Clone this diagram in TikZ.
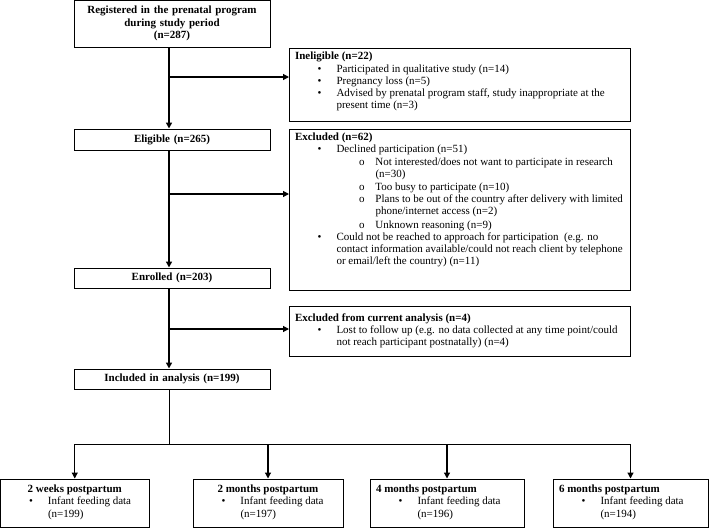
\documentclass[tikz,border=0pt]{standalone}
\usepackage{fontspec}
\setmainfont{Liberation Serif}
\usepackage{tikz}
\usetikzlibrary{arrows.meta}
\hfuzz=20pt
\newcommand{\hd}[1]{\noindent{\spaceskip=0pt\xspaceskip=0pt\bfseries #1}}
\newcommand{\bul}[1]{\par\noindent\hspace*{22.5pt}\makebox[19pt][l]{\textbullet}{\spaceskip=0pt\xspaceskip=0pt\begin{tabular}[t]{@{}l@{}}#1\end{tabular}}}
\newcommand{\subbul}[1]{\par\noindent\hspace*{64pt}\makebox[16.5pt][l]{o}{\spaceskip=0pt\xspaceskip=0pt\begin{tabular}[t]{@{}l@{}}#1\end{tabular}}}
\newcommand{\tail}[1]{\par\nointerlineskip\vspace{#1}\null}
\begin{document}
\begin{tikzpicture}[x=1pt,y=-1pt,
  every node/.append style={font=\fontsize{11}{12.2}\selectfont},
  mainbox/.style={draw,line width=1pt,font=\fontsize{11}{12.2}\selectfont\bfseries,align=center,text width=186pt,inner xsep=5pt,inner ysep=0pt},
  sidebox/.style={draw,line width=1pt,anchor=north west,align=left,text width=330pt,inner xsep=5.5pt,inner ysep=3.5pt},
  endbox/.style={draw,line width=1pt,align=left,inner xsep=6pt,inner ysep=0pt,minimum height=48pt},
  flow/.style={-{Triangle[length=6pt,width=6pt]},line width=1.5pt},
  branch/.style={-{Triangle[length=6pt,width=6pt]},line width=1.2pt},
  bus/.style={line width=0.8pt}]
\useasboundingbox (0,0) rectangle (709,528);
\node[mainbox,minimum height=47pt] (reg) at (172,23.5) {Registered in the prenatal program\\during study period\\(n=287)};
\node[mainbox,minimum height=21pt] (elig) at (172,139.5) {Eligible (n=265)};
\node[mainbox,minimum height=20pt] (enr) at (172,278) {Enrolled (n=203)};
\node[mainbox,minimum height=20pt] (incl) at (172,379) {Included in analysis (n=199)};
\node[sidebox,minimum height=73pt] (inel) at (289,48) {\hd{Ineligible (n=22)}
  \bul{Participated in qualitative study (n=14)}
  \bul{Pregnancy loss (n=5)}
  \bul{Advised by prenatal program staff, study inappropriate at the\\present time (n=3)}\tail{5.5pt}};
\node[sidebox,minimum height=159pt] (excl) at (289,129) {\hd{Excluded (n=62)}
  \bul{Declined participation (n=51)}
  \subbul{Not interested/does not want to participate in research\\(n=30)}
  \subbul{Too busy to participate (n=10)}
  \subbul{Plans to be out of the country after delivery with limited\\phone/internet access (n=2)}
  \subbul{Unknown reasoning (n=9)}
  \bul{Could not be reached to approach for participation\ \ (e.g. no\\contact information available/could not reach client by telephone\\or email/left the country) (n=11)}\tail{18.5pt}};
\node[sidebox,minimum height=50pt] (curr) at (289,306) {\hd{Excluded from current analysis (n=4)}
  \bul{Lost to follow up (e.g. no data collected at any time point/could\\not reach participant postnatally) (n=4)}\par};
\node[endbox,text width=136.5pt] (wk2) at (74.75,503) {{\centering\hd{2 weeks postpartum}\par}
  \bul{Infant feeding data\\(n=199)}\par};
\node[endbox,text width=138pt] (mo2) at (268,503) {{\centering\hd{2 months postpartum}\par}
  \bul{Infant feeding data\\(n=197)}\par};
\node[endbox,text width=142pt] (mo4) at (447,503) {\hd{4 months postpartum}
  \bul{Infant feeding data\\(n=196)}\par};
\node[endbox,text width=143pt] (mo6) at (630.5,503) {\hd{6 months postpartum}
  \bul{Infant feeding data\\(n=194)}\par};
\coordinate (s1) at (169,77);
\coordinate (s2) at (169,194);
\coordinate (s3) at (169,329);
\coordinate (bus) at (169,444);
\draw[flow] (reg.south -| s1) -- (elig.north -| s1);
\draw[flow] (elig.south -| s1) -- (enr.north -| s1);
\draw[flow] (enr.south -| s1) -- (incl.north -| s1);
\draw[branch] (s1) -- (s1 -| inel.west);
\draw[branch] (s2) -- (s2 -| excl.west);
\draw[branch] (s3) -- (s3 -| curr.west);
\draw[bus] (incl.south -| bus) -- (bus);
\draw[bus] (bus -| wk2.north) -- (bus -| mo6.north);
\foreach \b in {wk2,mo2,mo4,mo6}
\draw[branch] (bus -| \b.north) -- (\b.north);
\end{tikzpicture}
\end{document}
